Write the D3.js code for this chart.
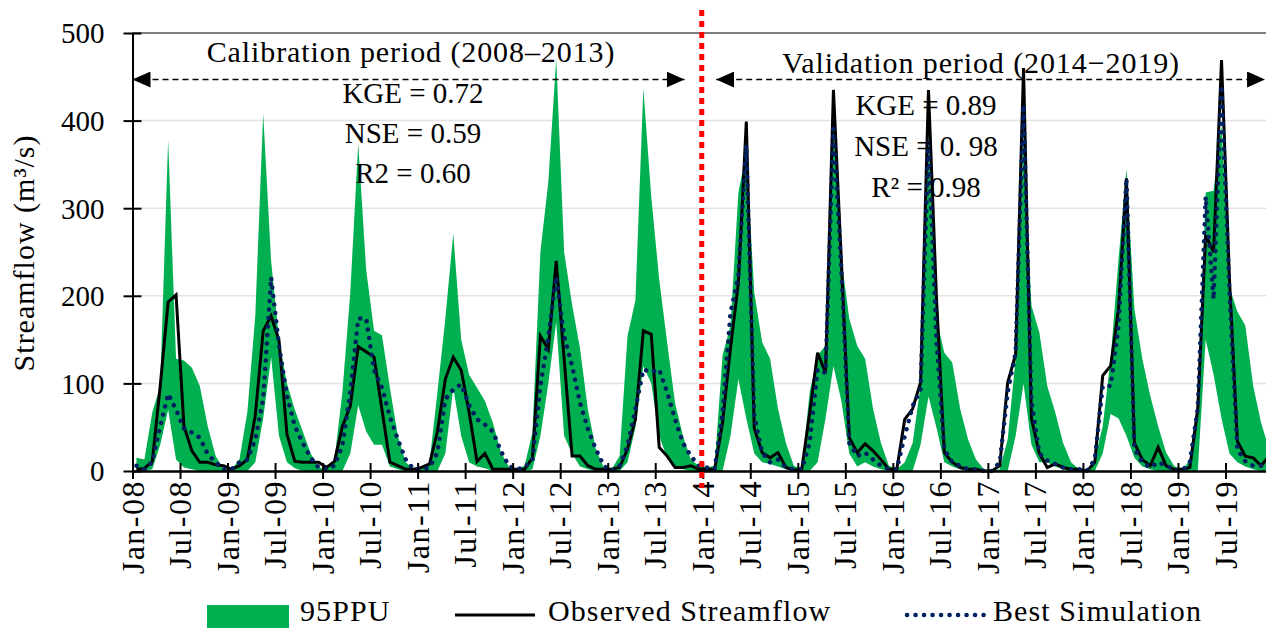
<!DOCTYPE html>
<html>
<head>
<meta charset="utf-8">
<script src="https://cdn.jsdelivr.net/npm/d3@7"></script>
<style>
  body { margin: 0; background: #fff; }
  svg { display: block; }
  text { font-family: "Palatino Linotype", "Book Antiqua", Palatino, "Liberation Serif", serif; fill: #000; }
</style>
</head>
<body>
<svg id="chart" width="1266" height="628"></svg>
<script>
// monthly streamflow (m3/s), Jan-2008 .. Dec-2019, one row per year
const observed = [
  2, 3, 11, 97, 193, 201, 51, 23, 10, 10, 7, 6,
  2, 6, 13, 63, 160, 177, 149, 42, 11, 10, 10, 10,
  4, 11, 51, 74, 142, 136, 130, 70, 10, 6, 2, 2,
  4, 8, 45, 105, 130, 115, 67, 11, 20, 2, 2, 2,
  2, 2, 15, 154, 139, 240, 128, 17, 17, 6, 2, 2,
  2, 4, 25, 59, 160, 156, 27, 17, 4, 4, 6, 2,
  2, 2, 55, 140, 215, 399, 49, 21, 15, 21, 4, 1,
  2, 66, 135, 112, 435, 240, 38, 21, 31, 23, 13, 2,
  2, 59, 71, 101, 435, 200, 21, 10, 4, 2, 2, 0,
  0, 6, 101, 133, 460, 60, 20, 4, 8, 4, 2, 2,
  0, 10, 109, 120, 185, 334, 32, 13, 6, 27, 6, 2,
  2, 4, 71, 269, 250, 469, 220, 34, 17, 15, 6, 17
];

const simulated = [
  6, 2, 10, 51, 88, 70, 48, 44, 38, 19, 10, 2,
  2, 10, 13, 36, 82, 221, 143, 86, 51, 32, 15, 4,
  2, 6, 29, 90, 174, 174, 115, 95, 62, 36, 13, 2,
  2, 4, 21, 82, 93, 99, 75, 59, 53, 45, 23, 6,
  2, 4, 13, 97, 153, 222, 154, 120, 78, 48, 25, 6,
  0, 6, 29, 71, 116, 113, 116, 90, 59, 32, 17, 6,
  4, 2, 67, 180, 223, 372, 63, 21, 10, 13, 4, 2,
  2, 32, 116, 112, 391, 230, 32, 17, 21, 13, 6, 2,
  2, 40, 74, 93, 376, 150, 25, 10, 6, 2, 2, 0,
  0, 10, 90, 135, 418, 80, 20, 12, 8, 4, 2, 2,
  0, 13, 97, 97, 166, 334, 25, 10, 4, 10, 6, 2,
  0, 10, 71, 313, 196, 440, 204, 25, 11, 6, 6, 10
];

const ppuLower = [
  0, 0, 2, 30, 70, 13, 4, 2, 0, 0, 0, 0,
  0, 0, 0, 10, 60, 130, 40, 10, 3, 0, 0, 0,
  0, 0, 0, 20, 75, 45, 30, 30, 5, 2, 0, 0,
  0, 0, 0, 20, 95, 40, 10, 5, 3, 0, 0, 0,
  0, 0, 2, 40, 100, 170, 40, 20, 5, 2, 0, 0,
  0, 0, 10, 50, 120, 100, 40, 15, 5, 2, 0, 0,
  0, 0, 0, 40, 105, 60, 20, 10, 8, 5, 2, 0,
  0, 0, 10, 60, 120, 80, 20, 5, 10, 5, 2, 0,
  0, 0, 0, 30, 85, 50, 10, 5, 2, 0, 0, 0,
  0, 0, 0, 40, 100, 30, 10, 10, 5, 2, 0, 0,
  0, 0, 20, 65, 60, 40, 15, 5, 2, 0, 0, 0,
  0, 0, 0, 150, 110, 60, 20, 10, 5, 2, 0, 0
];

const ppuUpper = [
  15, 13, 67, 97, 378, 128, 126, 118, 97, 51, 17, 2,
  2, 13, 67, 177, 408, 240, 150, 100, 70, 45, 20, 4,
  2, 13, 90, 204, 374, 230, 160, 155, 95, 40, 10, 2,
  2, 10, 90, 174, 271, 150, 110, 95, 80, 55, 22, 5,
  2, 6, 44, 250, 330, 471, 250, 190, 140, 70, 25, 4,
  2, 17, 154, 195, 437, 313, 219, 147, 78, 40, 13, 6,
  4, 6, 132, 166, 318, 364, 204, 147, 128, 71, 32, 6,
  2, 90, 132, 143, 395, 242, 174, 143, 128, 71, 32, 6,
  2, 10, 32, 97, 380, 174, 135, 124, 71, 36, 13, 2,
  0, 2, 36, 128, 380, 189, 158, 97, 67, 32, 10, 2,
  0, 13, 51, 128, 242, 345, 185, 128, 86, 51, 21, 6,
  0, 13, 78, 318, 320, 395, 210, 182, 166, 97, 55, 25
];

const tickLabels = [
  "Jan-08", "Jul-08", "Jan-09", "Jul-09", "Jan-10", "Jul-10",
  "Jan-11", "Jul-11", "Jan-12", "Jul-12", "Jan-13", "Jul-13",
  "Jan-14", "Jul-14", "Jan-15", "Jul-15", "Jan-16", "Jul-16",
  "Jan-17", "Jul-17", "Jan-18", "Jul-18", "Jan-19", "Jul-19"
];
const yTicks = [0, 100, 200, 300, 400, 500];

const calibStats = ["KGE = 0.72", "NSE = 0.59", "R2 = 0.60"];
const validStats = ["KGE = 0.89", "NSE = 0. 98", "R\u00B2 = 0.98"];

const legendItems = ["95PPU", "Observed Streamflow", "Best Simulation"];

const green = "#00b050";
const navy = "#002060";

const svg = d3.select("#chart");
const months = d3.range(observed.length);

// months on x (one unit per month), points sit mid-month
const x = d3.scaleLinear().domain([0, 144]).range([132.5, 1273]);
const y = d3.scaleLinear().domain([0, 500]).range([471, 33]);
const xm = i => x(i + 0.5);

// gridlines
svg.append("g")
  .selectAll("line")
  .data(yTicks.filter(v => v > 0))
  .join("line")
    .attr("x1", x(0)).attr("x2", 1266)
    .attr("y1", d => y(d)).attr("y2", d => y(d))
    .attr("stroke", d => d === 500 ? "#555" : "#e3e3e3")
    .attr("stroke-width", 1.5);

// 95PPU band
const band = d3.area()
  .x(i => xm(i))
  .y0(i => y(ppuLower[i]))
  .y1(i => y(ppuUpper[i]));

svg.append("path")
  .datum(months)
  .attr("d", band)
  .attr("fill", green);

// observed
const seriesLine = d3.line().x((d, i) => xm(i)).y(d => y(d));
svg.append("path")
  .datum(observed)
  .attr("d", seriesLine)
  .attr("fill", "none")
  .attr("stroke", "#000")
  .attr("stroke-width", 3);

// best simulation
svg.append("path")
  .datum(simulated)
  .attr("d", seriesLine)
  .attr("fill", "none")
  .attr("stroke", navy)
  .attr("stroke-width", 4.5)
  .attr("stroke-linecap", "round")
  .attr("stroke-dasharray", "0.1 8.4");

// axes
const yAxis = svg.append("g")
  .attr("transform", `translate(${x(0)},0)`)
  .call(d3.axisLeft(y).tickValues(yTicks).tickSize(9).tickPadding(19).tickSizeOuter(0));
yAxis.attr("font-family", null).attr("font-size", null);
yAxis.select(".domain").attr("stroke", "#000").attr("stroke-width", 2);
yAxis.selectAll(".tick line").attr("x1", 9).attr("stroke", "#000").attr("stroke-width", 2);
yAxis.selectAll(".tick text").attr("font-size", 29).attr("dy", "0.34em");

const xAxis = svg.append("g")
  .attr("transform", `translate(0,${y(0)})`)
  .call(d3.axisBottom(x)
    .tickValues(tickLabels.map((_, k) => k * 6))
    .tickFormat((d, k) => tickLabels[k])
    .tickSize(8)
    .tickSizeOuter(0));
xAxis.attr("font-family", null).attr("font-size", null);
xAxis.select(".domain").attr("stroke", "#000").attr("stroke-width", 2.5);
xAxis.selectAll(".tick line").attr("y1", -8).attr("stroke", "#000").attr("stroke-width", 2);
xAxis.selectAll(".tick text")
  .attr("font-size", 32)
  .attr("letter-spacing", 1.5)
  .attr("transform", "rotate(-90)")
  .attr("text-anchor", "end")
  .attr("x", -9)
  .attr("y", 0)
  .attr("dy", "0.33em");

// axis title
svg.append("text")
  .attr("transform", "translate(34,253) rotate(-90)")
  .attr("text-anchor", "middle")
  .attr("font-size", 30)
  .attr("letter-spacing", 1)
  .text("Streamflow (m\u00B3/s)");

// period split
svg.append("line")
  .attr("x1", x(72) - 1).attr("x2", x(72) - 1)
  .attr("y1", 10).attr("y2", 488)
  .attr("stroke", "#ff0000")
  .attr("stroke-width", 5)
  .attr("stroke-dasharray", "6 5");

// period arrows
const defs = svg.append("defs");
defs.append("marker")
  .attr("id", "tip")
  .attr("markerUnits", "userSpaceOnUse")
  .attr("viewBox", "0 0 18 16")
  .attr("refX", 18).attr("refY", 8)
  .attr("markerWidth", 18).attr("markerHeight", 16)
  .attr("orient", "auto-start-reverse")
  .append("path")
    .attr("d", "M0,0L18,8L0,16Z")
    .attr("fill", "#000");

const arrows = [[0, 69.7], [73.7, 143]];
svg.append("g")
  .selectAll("line")
  .data(arrows)
  .join("line")
    .attr("x1", d => x(d[0])).attr("x2", d => x(d[1]))
    .attr("y1", 79.5).attr("y2", 79.5)
    .attr("stroke", "#000")
    .attr("stroke-width", 1.5)
    .attr("stroke-dasharray", "6 4")
    .attr("marker-start", "url(#tip)")
    .attr("marker-end", "url(#tip)");

svg.append("text")
  .attr("x", 411).attr("y", 62)
  .attr("text-anchor", "middle")
  .attr("font-size", 30)
  .attr("letter-spacing", 0.9)
  .text("Calibration period (2008\u20132013)");

svg.append("text")
  .attr("x", 981).attr("y", 73)
  .attr("text-anchor", "middle")
  .attr("font-size", 30)
  .attr("letter-spacing", 0.9)
  .text("Validation period (2014\u22122019)");

svg.append("g")
  .selectAll("text")
  .data(calibStats)
  .join("text")
    .attr("x", 413)
    .attr("y", (d, k) => 103 + k * 40)
    .attr("text-anchor", "middle")
    .attr("font-size", 29)
    .text(d => d);

svg.append("g")
  .selectAll("text")
  .data(validStats)
  .join("text")
    .attr("x", 926)
    .attr("y", (d, k) => 115 + k * 41)
    .attr("text-anchor", "middle")
    .attr("font-size", 29)
    .text(d => d);

// legend
const legend = svg.append("g");
legend.append("rect")
  .attr("x", 207).attr("y", 605).attr("width", 82).attr("height", 23)
  .attr("fill", green);
legend.append("line")
  .attr("x1", 455).attr("x2", 535).attr("y1", 615).attr("y2", 615)
  .attr("stroke", "#000").attr("stroke-width", 3);
legend.append("line")
  .attr("x1", 907).attr("x2", 985).attr("y1", 615).attr("y2", 615)
  .attr("stroke", navy).attr("stroke-width", 4.5)
  .attr("stroke-linecap", "round").attr("stroke-dasharray", "0.1 8.4");
legend.selectAll("text")
  .data(legendItems)
  .join("text")
    .attr("x", (d, k) => [300, 548, 993][k])
    .attr("y", 621)
    .attr("font-size", 30)
    .attr("letter-spacing", 1.1)
    .text(d => d);
</script>
</body>
</html>
